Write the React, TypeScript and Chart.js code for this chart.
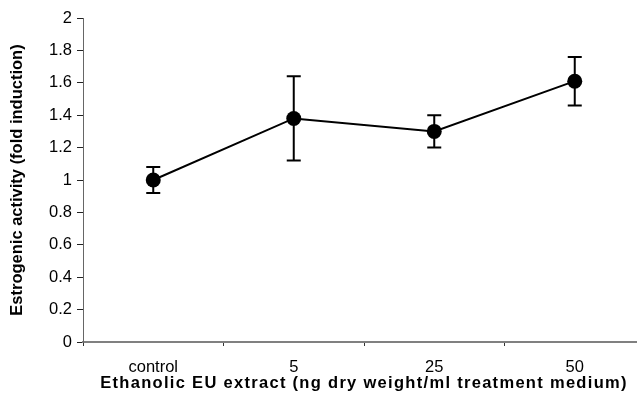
import React, { useEffect, useRef } from "react";
import { Chart, registerables } from "chart.js";

Chart.register(...registerables);

const categories = ["control", "5", "25", "50"];
const meanValues = [1.0, 1.38, 1.3, 1.61];
const upperValues = [1.08, 1.64, 1.4, 1.76];
const lowerValues = [0.92, 1.12, 1.2, 1.46];
const yTickValues = [0, 0.2, 0.4, 0.6, 0.8, 1, 1.2, 1.4, 1.6, 1.8, 2];
const yTitle = "Estrogenic activity (fold induction)";
const xTitle = "Ethanolic EU extract (ng dry weight/ml treatment medium)";

const FONT = "'Liberation Sans', Arial, Helvetica, sans-serif";

const errorBarPlugin = {
  id: "errorBars",
  afterDatasetsDraw(chart: any) {
    const ctx = chart.ctx;
    const xs = chart.scales.x;
    const ys = chart.scales.y;
    ctx.save();
    ctx.strokeStyle = "#000";
    ctx.lineWidth = 2;
    categories.forEach((_, i) => {
      const x = xs.getPixelForValue(i);
      const yt = ys.getPixelForValue(upperValues[i]);
      const yb = ys.getPixelForValue(lowerValues[i]);
      const w = 7;
      ctx.beginPath();
      ctx.moveTo(x, yt);
      ctx.lineTo(x, yb);
      ctx.moveTo(x - w, yt);
      ctx.lineTo(x + w, yt);
      ctx.moveTo(x - w, yb);
      ctx.lineTo(x + w, yb);
      ctx.stroke();
    });
    ctx.restore();
  },
};

export default function App() {
  const ref = useRef<HTMLCanvasElement | null>(null);
  useEffect(() => {
    if (!ref.current) return;
    const chart = new Chart(ref.current, {
      type: "line",
      data: {
        labels: categories,
        datasets: [
          {
            data: meanValues,
            borderColor: "#000",
            borderWidth: 2,
            backgroundColor: "#000",
            pointRadius: 7.5,
            pointBackgroundColor: "#000",
            pointBorderColor: "#000",
            pointBorderWidth: 0,
            tension: 0,
          },
        ],
      },
      plugins: [errorBarPlugin],
      options: {
        responsive: false,
        animation: false,
        events: [],
        layout: { padding: { top: 18, right: 15, bottom: 0, left: 0 } },
        plugins: { legend: { display: false }, tooltip: { enabled: false } },
        scales: {
          x: {
            type: "category",
            offset: true,
            afterFit(scale: any) {
              scale.height = 62;
              if (!scale._patched) {
                const orig = scale.drawTitle;
                scale.drawTitle = function (...args: any[]) {
                  const c = this.ctx;
                  c.save();
                  (c as any).letterSpacing = "1.3px";
                  orig.apply(this, args);
                  c.restore();
                };
                scale._patched = true;
              }
            },
            grid: {
              display: true,
              offset: true,
              drawOnChartArea: false,
              drawTicks: true,
              tickLength: 4,
              color: "#333",
            },
            border: { display: true, color: "#808080", width: 2 },
            ticks: {
              color: "#000",
              font: { family: FONT, size: 16.5 },
              padding: 12,
              maxRotation: 0,
            },
            title: {
              display: true,
              text: xTitle,
              color: "#000",
              font: { family: FONT, size: 16.5, weight: "bold" },
              padding: { top: 0, bottom: 11 },
            },
          },
          y: {
            min: 0,
            max: 2,
            afterFit(scale: any) {
              scale.width = 83;
            },
            afterBuildTicks(scale: any) {
              scale.ticks = yTickValues.map((v) => ({ value: v }));
            },
            grid: {
              display: true,
              drawOnChartArea: false,
              drawTicks: true,
              tickLength: 6,
              color: "#222",
            },
            border: { display: true, color: "#666", width: 1 },
            ticks: {
              color: "#000",
              font: { family: FONT, size: 16.5 },
              padding: 5,
              callback: (v: any) => String(Math.round(Number(v) * 10) / 10),
            },
            title: {
              display: true,
              text: yTitle,
              color: "#000",
              font: { family: FONT, size: 16.5, weight: "bold" },
              padding: { top: 8, bottom: 0 },
            },
          },
        },
      },
    });
    return () => chart.destroy();
  }, []);
  return (
    <div
      style={{
        position: "fixed",
        left: 0,
        top: 0,
        width: 637,
        height: 404,
        overflow: "hidden",
        background: "#fff",
      }}
    >
      <canvas ref={ref} width={660} height={404} style={{ display: "block" }} />
    </div>
  );
}
